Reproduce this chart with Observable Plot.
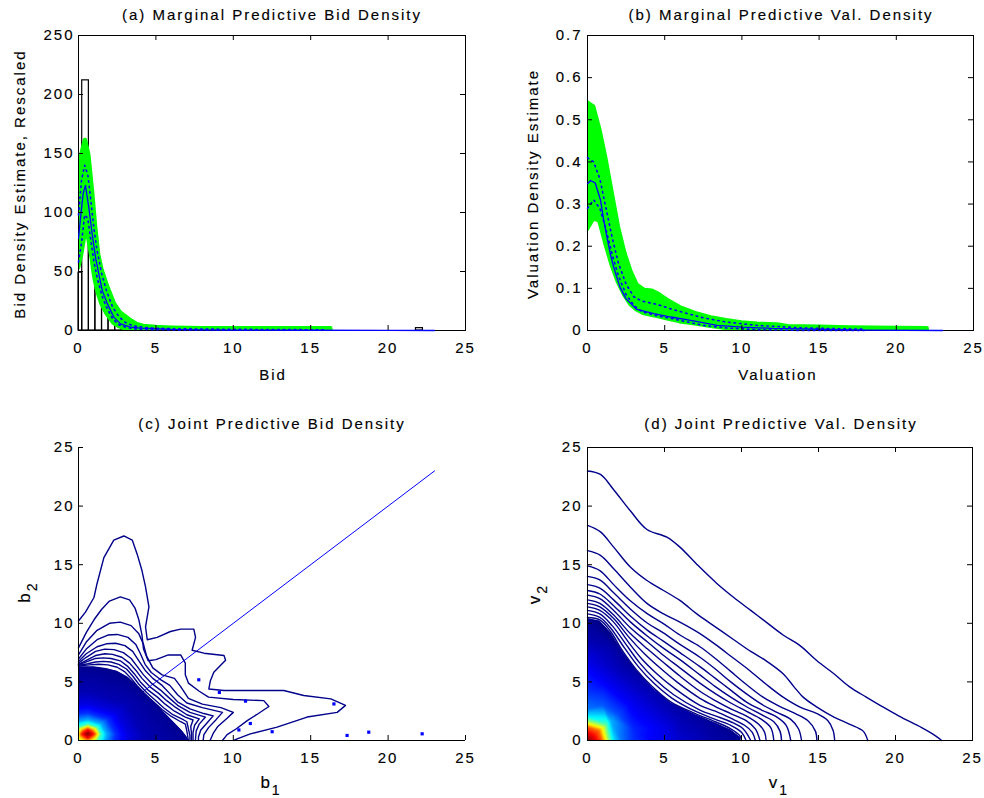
<!DOCTYPE html>
<html><head><meta charset="utf-8">
<script src="https://cdn.jsdelivr.net/npm/d3@7"></script>
<script src="https://cdn.jsdelivr.net/npm/@observablehq/plot@0.6"></script>
<style>
body{margin:0;background:#fff}
#root{position:relative;width:984px;height:798px;background:#fff}
.panel{position:absolute}
#root text{stroke:#000;stroke-width:0.15px}
</style>
</head><body><div id="root"></div>
<script>
// ---------- tick labels ----------
const xTicks = [0, 5, 10, 15, 20, 25];
const aYTicks = [0, 50, 100, 150, 200, 250];
const bYTicks = [0, 0.1, 0.2, 0.3, 0.4, 0.5, 0.6, 0.7];
const cdYTicks = [0, 5, 10, 15, 20, 25];

// ---------- panel (a) ----------
const histX1 = [0, 0.24, 0.67, 1.09, 1.52, 1.94, 2.37, 2.80, 3.22, 21.8];
const histX2 = [0.24, 0.67, 1.09, 1.52, 1.94, 2.37, 2.80, 3.22, 3.65, 22.25];
const histCount = [49, 212, 82, 34, 25, 17, 12, 7, 3, 2];

const aBandX  = [0, 0.2, 0.45, 0.67, 0.9, 1.0, 1.1, 1.3, 1.5, 1.85, 2.3, 2.7, 3.3, 3.8, 4.2, 5, 6, 8, 10, 12, 14, 16.3];
const aBandLo = [53, 64, 84, 78, 60, 50, 42, 31, 23, 14, 6, 3, 0, 0, 0, 0, 0, 0, 0, 0, 0, 0];
const aBandHi = [103, 148, 161, 148, 118, 103, 88, 64, 52, 38, 23, 15, 9, 5, 3.5, 2.5, 2, 1.5, 1.5, 1.5, 1.5, 1.5];

const aMeanX = [0, 0.15, 0.3, 0.45, 0.67, 0.88, 1.1, 1.31, 1.53, 1.85, 2.28, 2.71, 3.36, 4, 5, 6, 8, 10, 15, 20, 23];
const aMeanY = [78, 98, 116, 123, 104, 82, 62, 48, 34, 23, 11.3, 5.6, 2.8, 2, 1.5, 1.0, 0.6, 0.4, 0.2, 0.1, 0];
const aQX   = [0, 0.2, 0.4, 0.6, 0.8, 1.0, 1.2, 1.5, 1.8, 2.2, 2.6, 3.0, 3.5, 4.5, 6, 10, 16];
const aQHi  = [98, 128, 140, 132, 110, 86, 68, 48, 34, 20, 12, 7, 4, 2.2, 1.5, 1, 0.6];
const aQLo  = [58, 75, 98, 95, 76, 58, 45, 30, 20, 10, 5, 3, 1.5, 0.8, 0.5, 0.3, 0.2];

// ---------- panel (b) ----------
const bBandX  = [0, 0.4, 0.8, 1.2, 1.6, 2.0, 2.4, 2.8, 3.2, 3.7, 4.2, 4.6, 5.2, 6, 7, 8, 9, 10, 11, 12.3, 13, 15, 17, 20, 22];
const bBandHi = [0.54, 0.53, 0.475, 0.405, 0.325, 0.245, 0.185, 0.14, 0.108, 0.095, 0.093, 0.086, 0.071, 0.054, 0.04, 0.03, 0.023, 0.018, 0.015, 0.013, 0.009, 0.008, 0.006, 0.005, 0.004];
const bBandLo = [0.24, 0.265, 0.26, 0.205, 0.155, 0.115, 0.085, 0.062, 0.049, 0.04, 0.036, 0.033, 0.028, 0.021, 0.016, 0.01, 0.005, 0, 0, 0, 0, 0, 0, 0, 0];

const bMeanX = [0, 0.2, 0.5, 0.84, 1.06, 1.27, 1.49, 1.7, 2.1, 2.5, 3.2, 4.3, 5.4, 6.5, 7.55, 8.4, 10, 12, 15, 18, 23];
const bMeanY = [0.348, 0.356, 0.35, 0.31, 0.26, 0.22, 0.18, 0.15, 0.103, 0.075, 0.05, 0.04, 0.032, 0.025, 0.018, 0.012, 0.008, 0.005, 0.003, 0.001, 0];
const bQX  = [0, 0.4, 0.8, 1.2, 1.6, 2.0, 2.5, 3.0, 3.5, 4.5, 5.5, 6.5, 7.5, 9, 11, 14, 18];
const bQHi = [0.41, 0.40, 0.36, 0.29, 0.22, 0.16, 0.11, 0.08, 0.07, 0.062, 0.05, 0.04, 0.03, 0.02, 0.012, 0.006, 0.003];
const bQLo = [0.29, 0.31, 0.29, 0.24, 0.18, 0.13, 0.085, 0.06, 0.045, 0.035, 0.028, 0.02, 0.012, 0.006, 0.002, 0, 0];

// ---------- jet colormap ----------
const jetStops = [0, 0.125, 0.375, 0.625, 0.875, 1];
const jetColors = ["#00008f", "#0000ff", "#00ffff", "#ffff00", "#ff0000", "#800000"];

// ---------- panel (c) ----------
const cHeatX = [0.6, 0.95, 0.25, 0.6, 0.6, 1.15, 0.05, 0.6, 0.6, 0.99, 0.21, 0, 1.45, 0.6, 1.2, 0, 1.2, 1.8, 0.6, 1.45, 0, 1.7, 2.4, 0.6, 1.87, 0, 2.3, 3.2, 0.6, 2.44, 0, 3.15, 4.2, 0.6, 3.15, 0, 4.15, 0, 1.5, 3, 4.5, 5.5, 6.5, 7.6, 7.6, 5.5, 0];
const cHeatY = [0.55, 0.55, 0.55, 0.9, 0.2, 0.55, 0.55, 1.1, 0, 0.94, 0.94, 0, 0.55, 1.4, 1.15, 1.15, 0, 0.55, 1.75, 1.4, 1.6, 0, 0.55, 2.35, 1.82, 2.25, 0, 0.55, 3.15, 2.39, 3.1, 0, 0.55, 4.15, 3.1, 4.1, 0, 6.6, 6.3, 5.5, 4.2, 3, 1.5, 0, 7, 5.5, 7];
const cHeatV = [1.0, 0.88, 0.88, 0.88, 0.88, 0.72, 0.72, 0.72, 0.72, 0.68, 0.68, 0.5, 0.44, 0.44, 0.44, 0.44, 0.47, 0.3, 0.3, 0.3, 0.3, 0.3, 0.17, 0.17, 0.17, 0.17, 0.17, 0.09, 0.09, 0.09, 0.09, 0.09, 0.04, 0.04, 0.04, 0.04, 0.04, 0, 0, 0, 0, 0, 0, 0, 0, 0, 0];
const cNavy = [[0, 6.3], [1.0, 6.3], [1.8, 6.15], [2.5, 5.9], [3.2, 5.4], [3.8, 4.65], [4.4, 3.9], [5.0, 3.1], [5.6, 2.3], [6.2, 1.5], [6.7, 0.8], [7.0, 0.3], [7.1, 0]];
const cDiagonal = [[0, 0], [23, 23]];
const cPoints = [[7.77, 5.18], [9.1, 4.1], [10.79, 3.36], [16.5, 3.12], [11.1, 1.45], [10.36, 0.9], [12.51, 0.75], [17.35, 0.43], [18.75, 0.71], [22.2, 0.57]];
const cContour1 = [[0, 10.2], [0.45, 10.95], [1.0, 12.2], [1.2, 13.4], [1.64, 15.6], [2.28, 17.1], [2.93, 17.45], [3.47, 17.1], [3.79, 15.9], [4.1, 14.5], [4.33, 13.1], [4.55, 11.4], [4.33, 9.7], [4.44, 8.6], [5.08, 8.8], [5.94, 9.3], [6.6, 9.5], [7.45, 9.5], [7.56, 8.8], [7.34, 7.7], [8.1, 7.45], [9.4, 7.25], [9.5, 6.85], [8.74, 5.83], [8.52, 5.1], [8.42, 4.4], [9.39, 4.27], [13.26, 4.27], [14.55, 3.84], [16.3, 3.55], [17.25, 3.0], [16.71, 2.4], [14.77, 2.0], [12.83, 1.14], [11.1, 0.57], [10.25, 0.14], [10.03, 0]];
const cContour2 = [[0, 7.9], [0.5, 9.2], [1.0, 10.3], [1.5, 11.2], [2.0, 11.9], [2.7, 12.25], [3.3, 12.0], [3.65, 11.3], [3.9, 10.3], [4.1, 9.0], [4.2, 7.8], [4.5, 6.8], [5.0, 6.9], [5.8, 7.3], [6.6, 7.3], [6.9, 6.6], [6.9, 5.6], [7.1, 4.9], [7.8, 4.2], [8.4, 3.7], [10, 3.5], [11.97, 3.4], [12.3, 2.9], [11.5, 2.2], [10.9, 1.7], [10.2, 1.0], [9.6, 0.5], [9.3, 0]];
const cContour3 = [[0, 7.3], [0.5, 8.4], [1.2, 9.4], [2.0, 10.0], [2.7, 10.1], [3.4, 9.8], [3.9, 9.1], [4.2, 8.2], [4.4, 7.2], [4.8, 6.2], [5.4, 5.6], [6.2, 5.3], [6.6, 4.6], [7.1, 3.6], [8.0, 3.1], [9.2, 2.8], [10.0, 2.4], [9.6, 1.9], [9.0, 1.2], [8.7, 0.6], [8.5, 0]];
const cContour4 = [[0, 6.95], [0.5, 7.8], [1.2, 8.6], [1.9, 9.0], [2.5, 9.05], [3.2, 8.8], [3.7, 8.2], [4.0, 7.4], [4.3, 6.5], [4.7, 5.8], [5.3, 5.2], [5.9, 4.7], [6.4, 3.9], [7.0, 3.2], [8.0, 2.8], [9.3, 2.4], [8.9, 1.8], [8.4, 1.1], [8.1, 0.5], [8.05, 0]];
const cContour5 = [[0, 6.75], [0.5, 7.4], [1.2, 8.0], [1.8, 8.25], [2.4, 8.3], [3.0, 8.1], [3.5, 7.6], [3.9, 6.8], [4.3, 6.0], [4.8, 5.3], [5.4, 4.7], [5.9, 4.0], [6.4, 3.3], [7.2, 2.7], [8.1, 2.3], [8.7, 2.1], [8.3, 1.5], [7.9, 0.9], [7.75, 0.3], [7.75, 0]];
const cContour6 = [[0, 6.6], [0.5, 7.1], [1.1, 7.6], [1.7, 7.8], [2.3, 7.75], [2.9, 7.5], [3.4, 7.0], [3.8, 6.3], [4.2, 5.6], [4.7, 4.9], [5.3, 4.3], [5.8, 3.7], [6.4, 3.0], [7.2, 2.4], [8.2, 2.0], [7.8, 1.4], [7.6, 0.8], [7.55, 0]];
const cContour7 = [[0, 6.5], [0.6, 6.9], [1.1, 7.25], [1.7, 7.4], [2.2, 7.35], [2.8, 7.1], [3.3, 6.6], [3.7, 6.0], [4.1, 5.3], [4.6, 4.6], [5.2, 4.0], [5.7, 3.4], [6.3, 2.8], [7.0, 2.2], [7.8, 1.85], [7.5, 1.3], [7.4, 0.7], [7.4, 0]];
const cContour8 = [[0, 6.45], [0.6, 6.75], [1.1, 7.0], [1.6, 7.05], [2.1, 7.0], [2.7, 6.8], [3.2, 6.3], [3.6, 5.7], [4.0, 5.0], [4.5, 4.3], [5.1, 3.7], [5.6, 3.1], [6.2, 2.5], [6.9, 2.0], [7.4, 1.75], [7.25, 1.2], [7.3, 0.6], [7.3, 0]];
const cContour9 = [[0, 6.4], [0.6, 6.55], [1.1, 6.7], [1.6, 6.75], [2.1, 6.7], [2.6, 6.5], [3.1, 6.1], [3.5, 5.5], [3.9, 4.8], [4.4, 4.1], [5.0, 3.4], [5.5, 2.8], [6.1, 2.2], [6.8, 1.75], [7.0, 1.6], [7.1, 1.0], [7.2, 0.4], [7.2, 0]];
const cContour10 = [[0, 6.35], [0.7, 6.45], [1.3, 6.5], [1.9, 6.45], [2.5, 6.25], [3.0, 5.85], [3.4, 5.3], [3.8, 4.65], [4.3, 3.95], [4.9, 3.25], [5.4, 2.65], [6.0, 2.05], [6.6, 1.6], [6.9, 1.4], [7.0, 0.8], [7.1, 0]];

// ---------- panel (d) ----------
const dHeatX = [0, 0.5, 0, 0.4, 0.9, 0, 0.75, 1.15, 0, 1.0, 1.4, 0, 1.25, 1.7, 0, 1.5, 2.2, 0, 1.95, 3.0, 0, 2.7, 4.2, 0, 3.6, 1.0, 3.0, 6.0, 0, 1.0, 5.0, 8.0, 0, 2.0, 6.0, 1.5, 8.0, 10.5, 0, 5.0, 10.5, 3.0, 7.0];
const dHeatY = [0, 0, 0.6, 0.4, 0, 1.1, 0.85, 0, 1.4, 1.1, 0, 1.7, 1.35, 0, 2.1, 1.7, 0, 2.7, 2.25, 0, 4.0, 3.1, 0, 5.5, 4.0, 3.0, 1.0, 0, 7.0, 5.0, 1.0, 0, 8.5, 6.0, 2.0, 8.0, 1.5, 0, 10.6, 5.5, 10.6, 7.0, 4.0];
const dHeatV = [1.0, 0.9, 0.9, 0.88, 0.8, 0.8, 0.76, 0.65, 0.65, 0.6, 0.5, 0.5, 0.45, 0.35, 0.35, 0.3, 0.24, 0.24, 0.2, 0.17, 0.18, 0.12, 0.12, 0.14, 0.06, 0.21, 0.16, 0.07, 0.09, 0.12, 0.1, 0.03, 0.04, 0.05, 0.04, 0.03, 0.015, 0, 0, 0, 0, 0, 0];
const dNavy = [[0, 10.4], [0.8, 10.2], [1.5, 9.2], [2.3, 7.5], [3.2, 5.9], [4.2, 4.5], [5.4, 3.2], [7.0, 2.2], [8.3, 1.5], [9.3, 0.9], [9.9, 0.3], [9.95, 0]];
const dContour1 = [[0, 23.0], [0.84, 22.7], [1.7, 21.4], [2.78, 19.6], [3.86, 18.0], [5.15, 17.35], [6.0, 16.5], [7.2, 14.9], [8.4, 13.4], [9.5, 12.2], [10.6, 11.1], [11.6, 10.1], [12.7, 9.0], [13.8, 8.1], [14.9, 6.8], [16.0, 5.7], [17.0, 4.6], [18.1, 3.7], [19.0, 3.0], [20.2, 2.1], [21.7, 1.1], [22.6, 0.4], [23.0, 0]];
const dContour2 = [[0, 18.35], [0.84, 17.8], [1.7, 16.5], [2.78, 14.8], [3.86, 13.65], [4.94, 12.8], [6.0, 11.95], [7.1, 10.8], [8.3, 9.7], [9.5, 8.6], [10.6, 7.6], [11.6, 6.8], [12.7, 5.7], [13.4, 4.6], [14.0, 3.7], [14.9, 2.85], [16.0, 2.0], [17.0, 1.4], [17.9, 0.8], [18.2, 0]];
const dContour3 = [[0, 16.2], [0.84, 15.8], [1.7, 14.65], [2.78, 13.1], [3.86, 11.7], [4.94, 10.8], [6.0, 10.1], [7.2, 9.2], [8.3, 8.2], [9.4, 7.1], [10.5, 6.0], [11.6, 4.8], [12.7, 3.7], [13.8, 2.85], [14.9, 2.3], [15.6, 1.7], [15.95, 0.85], [16.05, 0]];
const dContour4 = [[0, 14.9], [0.8, 14.5], [1.7, 13.3], [2.8, 11.9], [3.9, 10.8], [4.9, 10.0], [6.0, 9.0], [7.3, 8.0], [8.3, 7.0], [9.3, 5.9], [10.3, 4.8], [11.4, 3.7], [12.5, 2.9], [13.5, 2.3], [14.3, 1.7], [14.8, 0.8], [14.9, 0]];
const dContour5 = [[0, 14.0], [0.8, 13.7], [1.7, 12.6], [2.8, 11.2], [3.9, 10.0], [4.9, 9.2], [6.0, 8.2], [7.3, 7.1], [8.3, 6.1], [9.3, 5.0], [10.3, 4.0], [11.3, 3.1], [12.3, 2.4], [13.2, 1.8], [13.7, 1.0], [13.9, 0]];
const dContour6 = [[0, 13.3], [0.8, 13.0], [1.7, 12.0], [2.8, 10.6], [3.9, 9.4], [4.9, 8.5], [6.0, 7.5], [7.3, 6.3], [8.3, 5.3], [9.3, 4.3], [10.3, 3.3], [11.3, 2.6], [12.3, 2.0], [12.9, 1.3], [13.2, 0]];
const dContour7 = [[0, 12.8], [0.8, 12.5], [1.7, 11.5], [2.8, 10.1], [3.9, 8.9], [4.9, 7.9], [6.0, 6.9], [7.3, 5.6], [8.3, 4.6], [9.3, 3.7], [10.3, 2.9], [11.3, 2.2], [12.1, 1.6], [12.5, 0.8], [12.6, 0]];
const dContour8 = [[0, 12.4], [0.8, 12.1], [1.7, 11.1], [2.8, 9.6], [3.9, 8.4], [4.9, 7.3], [6.0, 6.2], [7.3, 4.9], [8.3, 4.0], [9.3, 3.2], [10.3, 2.5], [11.3, 1.8], [11.9, 1.1], [12.1, 0]];
const dContour9 = [[0, 12.0], [0.8, 11.7], [1.7, 10.7], [2.8, 9.1], [3.9, 7.8], [4.9, 6.7], [6.0, 5.5], [7.3, 4.2], [8.3, 3.4], [9.3, 2.7], [10.3, 2.1], [11.1, 1.4], [11.5, 0.7], [11.6, 0]];
const dContour10 = [[0, 11.7], [0.8, 11.4], [1.7, 10.4], [2.7, 8.8], [3.7, 7.4], [4.7, 6.2], [5.8, 5.0], [7.3, 3.6], [8.3, 2.9], [9.3, 2.3], [10.3, 1.7], [10.9, 1.0], [11.2, 0]];
const dContour11 = [[0, 11.4], [0.8, 11.1], [1.7, 10.1], [2.6, 8.5], [3.5, 7.0], [4.5, 5.7], [5.7, 4.4], [7.3, 3.0], [8.3, 2.5], [9.3, 1.9], [10.2, 1.3], [10.7, 0.7], [10.9, 0]];
const dContour12 = [[0, 11.1], [0.8, 10.8], [1.6, 9.8], [2.5, 8.2], [3.4, 6.6], [4.4, 5.2], [5.6, 3.9], [7.3, 2.6], [8.3, 2.1], [9.3, 1.6], [10.1, 1.0], [10.6, 0]];
const dContour13 = [[0, 10.8], [0.8, 10.5], [1.5, 9.6], [2.4, 7.9], [3.3, 6.3], [4.3, 4.9], [5.5, 3.6], [7.0, 2.5], [8.3, 1.8], [9.3, 1.3], [10.0, 0.7], [10.3, 0]];
const dContour14 = [[0, 10.5], [0.8, 10.3], [1.5, 9.3], [2.3, 7.6], [3.2, 6.0], [4.2, 4.6], [5.4, 3.3], [7.0, 2.3], [8.3, 1.6], [9.3, 1.0], [9.9, 0.4], [10.0, 0]];

// ---------- helpers ----------
const FONT = "'Liberation Sans', Arial, Helvetica, sans-serif";
const STYLE = {fontFamily: FONT, fontSize: "15px", letterSpacing: "2px", background: "transparent", color: "black", overflow: "visible"};
const toRows = (xs, ...cols) => xs.map((x, i) => { const r = {x}; cols.forEach(([k, a]) => r[k] = a[i]); return r; });
const pairs = arr => arr.map(([x, y]) => ({x, y}));
const contourRows = list => list.flatMap((c, k) => c.map(([x, y]) => ({x, y, id: k})));
const jet = {type: "linear", domain: jetStops, range: jetColors, interpolate: "rgb"};
const GREEN = "#00ff00", BLUE = "#0000ff";

function inward(xt, yt, W, H, m, sides) {
  const iw = W - m.l - m.r, ih = H - m.t - m.b, out = [];
  if (sides.includes("b")) out.push(Plot.tickX(xt, {x: d => d, insetTop: ih - 5, stroke: "black"}));
  if (sides.includes("t")) out.push(Plot.tickX(xt, {x: d => d, insetBottom: ih - 5, stroke: "black"}));
  if (sides.includes("l")) out.push(Plot.tickY(yt, {y: d => d, insetRight: iw - 5, stroke: "black"}));
  if (sides.includes("r")) out.push(Plot.tickY(yt, {y: d => d, insetLeft: iw - 5, stroke: "black"}));
  return out;
}

function mount(svg, left, top) {
  const div = document.createElement("div");
  div.className = "panel";
  div.style.left = left + "px"; div.style.top = top + "px";
  div.appendChild(svg);
  document.getElementById("root").appendChild(div);
  return d3.select(svg);
}

function addText(sel, x, y, parts, opts = {}) {
  const t = sel.append("text")
    .attr("text-anchor", opts.anchor || "middle")
    .attr("fill", "black")
    .attr("transform", `translate(${x},${y})` + (opts.rotate ? ` rotate(${opts.rotate})` : ""));
  for (const p of parts) {
    const s = t.append("tspan").text(p.text);
    if (p.dy) s.attr("dy", p.dy);
    if (p.size) s.style("font-size", p.size + "px");
  }
  return t;
}

function clipRaster(svg, id) {
  const area = svg.querySelector('g[aria-label="area"] path');
  const rasterG = svg.querySelector('g[aria-label="raster"]');
  if (!area || !rasterG) return;
  const ns = "http://www.w3.org/2000/svg";
  const defs = document.createElementNS(ns, "defs");
  const cp = document.createElementNS(ns, "clipPath");
  cp.setAttribute("id", id);
  const p = document.createElementNS(ns, "path");
  p.setAttribute("d", area.getAttribute("d"));
  const at = area.parentNode.getAttribute("transform");
  const rt = rasterG.getAttribute("transform");
  if (at && at !== rt) p.setAttribute("transform", at);
  cp.appendChild(p); defs.appendChild(cp);
  svg.insertBefore(defs, svg.firstChild);
  rasterG.setAttribute("clip-path", `url(#${id})`);
}

// ---------- (a) ----------
{
  const W = 490, H = 399, m = {l: 78, r: 25, t: 35, b: 69};
  const hist = histX1.map((x1, i) => ({x1, x2: histX2[i], n: histCount[i]}));
  const band = toRows(aBandX, ["lo", aBandLo], ["hi", aBandHi]);
  const mean = toRows(aMeanX, ["y", aMeanY]);
  const qhi = toRows(aQX, ["y", aQHi]);
  const qlo = toRows(aQX, ["y", aQLo]);
  const svg = Plot.plot({
    width: W, height: H, marginLeft: m.l, marginRight: m.r, marginTop: m.t, marginBottom: m.b,
    style: STYLE,
    x: {domain: [0, 25], ticks: xTicks, tickSize: 0, tickPadding: 12, label: null},
    y: {domain: [0, 250], ticks: aYTicks, tickSize: 0, tickPadding: 4, label: null},
    marks: [
      Plot.rectY(hist, {x1: "x1", x2: "x2", y: "n", stroke: "black", fill: "none", strokeWidth: 1.2}),
      Plot.areaY(band, {x: "x", y1: "lo", y2: "hi", fill: GREEN, stroke: GREEN, strokeWidth: 4.5, strokeLinejoin: "round", clip: true}),
      Plot.frame({stroke: "black"}),
      Plot.line(qhi, {x: "x", y: "y", stroke: BLUE, strokeWidth: 1.6, strokeDasharray: "1.5,4"}),
      Plot.line(qlo, {x: "x", y: "y", stroke: BLUE, strokeWidth: 1.6, strokeDasharray: "1.5,4"}),
      Plot.line(mean, {x: "x", y: "y", stroke: BLUE, strokeWidth: 1.3}),
      ...inward(xTicks, aYTicks, W, H, m, "btlr")
    ]
  });
  const s = mount(svg, 0, 0);
  addText(s, 272, 20, [{text: "(a) Marginal Predictive Bid Density"}]);
  addText(s, 273, 380, [{text: "Bid"}]);
  addText(s, 25, 184, [{text: "Bid Density Estimate, Rescaled"}], {rotate: -90});
}

// ---------- (b) ----------
{
  const W = 494, H = 399, m = {l: 97, r: 11, t: 35, b: 69};
  const band = toRows(bBandX, ["lo", bBandLo], ["hi", bBandHi]);
  const mean = toRows(bMeanX, ["y", bMeanY]);
  const qhi = toRows(bQX, ["y", bQHi]);
  const qlo = toRows(bQX, ["y", bQLo]);
  const svg = Plot.plot({
    width: W, height: H, marginLeft: m.l, marginRight: m.r, marginTop: m.t, marginBottom: m.b,
    style: STYLE,
    x: {domain: [0, 25], ticks: xTicks, tickSize: 0, tickPadding: 12, label: null},
    y: {domain: [0, 0.7], ticks: bYTicks, tickSize: 0, tickPadding: 5, label: null, tickFormat: d => d === 0 ? "0" : d.toFixed(1)},
    marks: [
      Plot.areaY(band, {x: "x", y1: "lo", y2: "hi", fill: GREEN, stroke: GREEN, strokeWidth: 4.5, strokeLinejoin: "round", clip: true}),
      Plot.frame({stroke: "black"}),
      Plot.line(qhi, {x: "x", y: "y", stroke: BLUE, strokeWidth: 1.6, strokeDasharray: "1.5,4"}),
      Plot.line(qlo, {x: "x", y: "y", stroke: BLUE, strokeWidth: 1.6, strokeDasharray: "1.5,4"}),
      Plot.line(mean, {x: "x", y: "y", stroke: BLUE, strokeWidth: 1.3}),
      ...inward(xTicks, bYTicks, W, H, m, "btlr")
    ]
  });
  const s = mount(svg, 490, 0);
  addText(s, 291, 20, [{text: "(b) Marginal Predictive Val. Density"}]);
  addText(s, 288, 380, [{text: "Valuation"}]);
  addText(s, 48, 184, [{text: "Valuation Density Estimate"}], {rotate: -90});
}

// ---------- (c) ----------
{
  const W = 490, H = 399, m = {l: 78, r: 25, t: 48, b: 58};
  const heat = cHeatX.map((x, i) => ({x, y: cHeatY[i], v: cHeatV[i]}));
  const contours = contourRows([cContour1, cContour2, cContour3, cContour4, cContour5, cContour6, cContour7, cContour8, cContour9, cContour10]);
  const svg = Plot.plot({
    width: W, height: H, marginLeft: m.l, marginRight: m.r, marginTop: m.t, marginBottom: m.b,
    style: STYLE,
    color: jet,
    x: {domain: [0, 25], ticks: xTicks, tickSize: 0, tickPadding: 12, label: null},
    y: {domain: [0, 25], ticks: cdYTicks, tickSize: 0, tickPadding: 4, label: null},
    marks: [
      Plot.line(pairs(cDiagonal), {x: "x", y: "y", stroke: BLUE, strokeWidth: 1}),
      Plot.areaY(pairs(cNavy), {x: "x", y: "y", fill: "#00008f"}),
      Plot.raster(heat, {x: "x", y: "y", fill: "v", interpolate: "barycentric", x1: 0, y1: 0, x2: 7.6, y2: 7}),
      Plot.line(contours, {x: "x", y: "y", z: "id", stroke: "#00008b", strokeWidth: 1.4}),
      Plot.dot(pairs(cPoints), {x: "x", y: "y", symbol: "square", r: 1.8, fill: BLUE}),
      Plot.ruleX([0], {stroke: "black"}),
      Plot.ruleY([0], {stroke: "black"}),
      ...inward(xTicks, cdYTicks, W, H, m, "bl")
    ]
  });
  clipRaster(svg, "clipC");
  const s = mount(svg, 0, 399);
  addText(s, 272, 30, [{text: "(c) Joint Predictive Bid Density"}]);
  addText(s, 271, 389, [{text: "b", size: 17}, {text: "1", dy: 7, size: 14}]);
  addText(s, 30, 193, [{text: "b", size: 17}, {text: "2", dy: 7, size: 14}], {rotate: -90});
}

// ---------- (d) ----------
{
  const W = 494, H = 399, m = {l: 97, r: 12, t: 48, b: 58};
  const heat = dHeatX.map((x, i) => ({x, y: dHeatY[i], v: dHeatV[i]}));
  const contours = contourRows([dContour1, dContour2, dContour3, dContour4, dContour5, dContour6, dContour7, dContour8, dContour9, dContour10, dContour11, dContour12, dContour13, dContour14]);
  const svg = Plot.plot({
    width: W, height: H, marginLeft: m.l, marginRight: m.r, marginTop: m.t, marginBottom: m.b,
    style: STYLE,
    color: jet,
    x: {domain: [0, 25], ticks: xTicks, tickSize: 0, tickPadding: 12, label: null},
    y: {domain: [0, 25], ticks: cdYTicks, tickSize: 0, tickPadding: 5, label: null},
    marks: [
      Plot.areaY(pairs(dNavy), {x: "x", y: "y", fill: "#00008f"}),
      Plot.raster(heat, {x: "x", y: "y", fill: "v", interpolate: "barycentric", x1: 0, y1: 0, x2: 10.5, y2: 10.6}),
      Plot.line(contours, {x: "x", y: "y", z: "id", stroke: "#00008b", strokeWidth: 1.4, curve: "catmull-rom"}),
      Plot.frame({stroke: "black"}),
      ...inward(xTicks, cdYTicks, W, H, m, "btlr")
    ]
  });
  clipRaster(svg, "clipD");
  const s = mount(svg, 490, 399);
  addText(s, 291, 30, [{text: "(d) Joint Predictive Val. Density"}]);
  addText(s, 289, 389, [{text: "v", size: 17}, {text: "1", dy: 7, size: 14}]);
  addText(s, 50, 195, [{text: "v", size: 17}, {text: "2", dy: 7, size: 14}], {rotate: -90});
}
</script>
</body></html>
